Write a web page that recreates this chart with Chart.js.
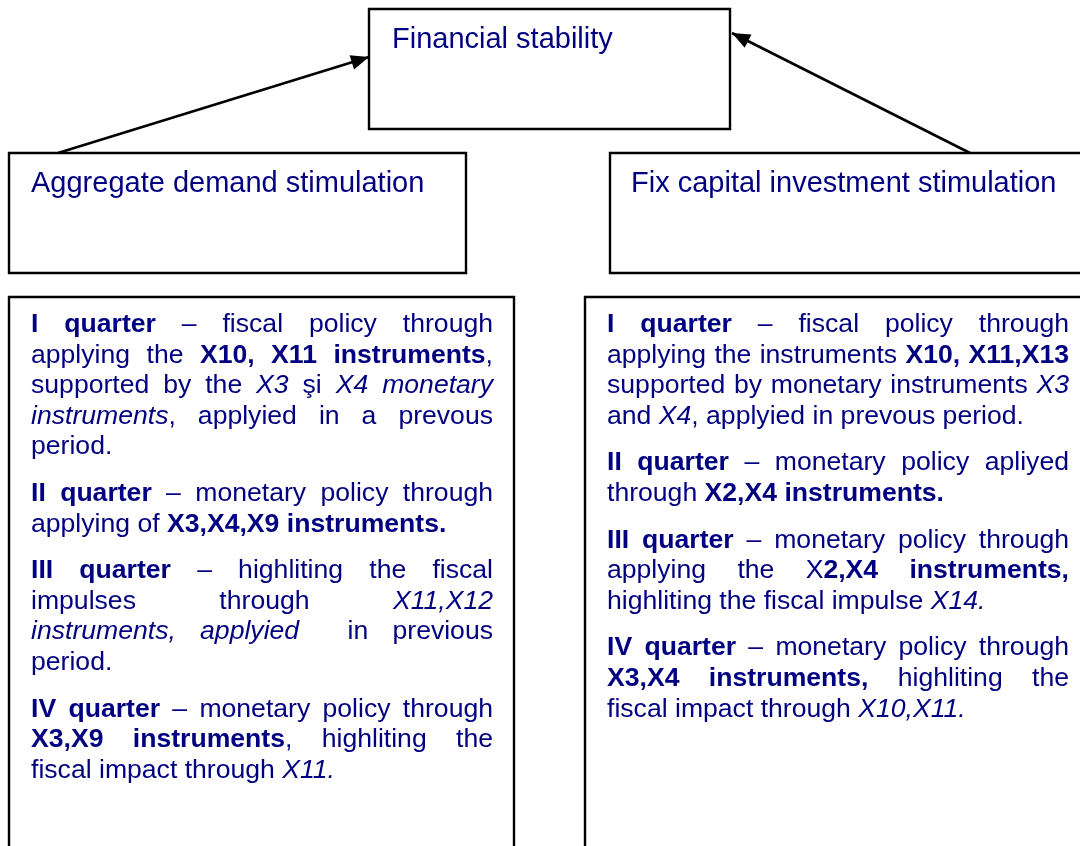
<!DOCTYPE html>
<html>
<head>
<meta charset="utf-8">
<script src="https://cdn.jsdelivr.net/npm/chart.js@4"></script>
<style>
  body { margin: 0; background: #fff; overflow: hidden; }
  canvas { display: block; }
</style>
</head>
<body>
<canvas id="chartEsquema" width="1080" height="846"></canvas>
<script>
// boxes: [left, top, right, bottom] in axis units (1 unit = 1 px)
var cajas = [
    [369, 9, 730, 129],     // Financial stability
    [9, 153, 466, 273],     // Aggregate demand
    [610, 153, 1083, 273],  // Fix capital investment
    [9, 297, 514, 850],     // left quarters
    [585, 297, 1083, 850]   // right quarters
];
// arrows: from -> to
var flechas = [
    [[58, 153], [369, 57]],
    [[970, 153], [732, 33]]
];
var titulos = ["Financial stability", "Aggregate demand stimulation", "Fix capital investment stimulation"];
var titulosPos = [[392, 48], [31, 192], [631, 192]];

// **bold**  _italic_
var textoIzq = [
    ["**I quarter** – fiscal policy through",
     "applying the **X10, X11 instruments**,",
     "supported by the _X3_ şi _X4 monetary_",
     "_instruments_, applyied in a prevous",
     "period."],
    ["**II quarter** – monetary policy through",
     "applying of **X3,X4,X9 instruments.**"],
    ["**III quarter** – highliting the fiscal",
     "impulses through _X11,X12_",
     "_instruments, applyied_  in previous",
     "period."],
    ["**IV quarter** – monetary policy through",
     "**X3,X9 instruments**, highliting the",
     "fiscal impact through _X11._"]
];
var textoDer = [
    ["**I quarter** – fiscal policy through",
     "applying the instruments **X10, X11,X13**",
     "supported by monetary instruments _X3_",
     "and _X4_, applyied in prevous period."],
    ["**II quarter** – monetary policy apliyed",
     "through **X2,X4 instruments.**"],
    ["**III quarter** – monetary policy through",
     "applying the X**2,X4 instruments,**",
     "highliting the fiscal impulse _X14._"],
    ["**IV quarter** – monetary policy through",
     "**X3,X4 instruments,** highliting the",
     "fiscal impact through _X10,X11._"]
];
var columnas = [[31, 493], [607, 1069]];

var AZUL = '#000080';
var FAMILIA = '"Liberation Sans", Arial, sans-serif';
var TAM = 26.6, INTERLINEA = 30.6, SEPARACION = 16, PRIMERA = 332;

function fuente(seg) {
    return (seg.i ? 'italic ' : '') + (seg.b ? 'bold ' : '') + TAM + 'px ' + FAMILIA;
}

// split marked-up line into words, each word a list of styled segments
function palabras(linea) {
    var res = [[]], b = false, i = false, buf = '';
    function flush() {
        if (buf) { res[res.length - 1].push({t: buf, b: b, i: i}); buf = ''; }
    }
    for (var k = 0; k < linea.length; k++) {
        var c = linea[k];
        if (c === '*' && linea[k + 1] === '*') { flush(); b = !b; k++; }
        else if (c === '_') { flush(); i = !i; }
        else if (c === ' ') { flush(); res.push([]); }
        else buf += c;
    }
    flush();
    return res;
}

function dibujarParrafos(ctx, parrafos, x0, x1, y0) {
    var y = y0;
    parrafos.forEach(function(par) {
        par.forEach(function(linea, n) {
            var ws = palabras(linea);
            var anchos = ws.map(function(w) {
                return w.reduce(function(s, seg) { ctx.font = fuente(seg); return s + ctx.measureText(seg.t).width; }, 0);
            });
            var total = anchos.reduce(function(a, v) { return a + v; }, 0);
            ctx.font = fuente({});
            var hueco = ctx.measureText(' ').width;
            var justificar = n < par.length - 1 && ws.length > 1;
            if (justificar) hueco = (x1 - x0 - total) / (ws.length - 1);
            var x = x0;
            ws.forEach(function(w) {
                w.forEach(function(seg) {
                    ctx.font = fuente(seg);
                    ctx.fillText(seg.t, x, y);
                    x += ctx.measureText(seg.t).width;
                });
                x += hueco;
            });
            y += INTERLINEA;
        });
        y += SEPARACION;
    });
}

var datasets = [];
cajas.forEach(function(c) {
    datasets.push({
        data: [{x: c[0], y: c[1]}, {x: c[2], y: c[1]}, {x: c[2], y: c[3]}, {x: c[0], y: c[3]}, {x: c[0], y: c[1]}],
        showLine: true, borderColor: '#000', borderWidth: 2.4, borderCapStyle: 'square', borderJoinStyle: 'miter',
        pointRadius: 0, fill: false, clip: false
    });
});
flechas.forEach(function(f) {
    datasets.push({
        data: [{x: f[0][0], y: f[0][1]}, {x: f[1][0], y: f[1][1]}],
        showLine: true, borderColor: '#000', borderWidth: 2.6, pointRadius: 0, fill: false, clip: false, flecha: true
    });
});

var pluginEsquema = {
    id: 'esquema',
    afterDatasetsDraw: function(chart) {
        var ctx = chart.ctx, sx = chart.scales.x, sy = chart.scales.y;
        ctx.save();
        // arrow heads
        chart.data.datasets.forEach(function(ds) {
            if (!ds.flecha) return;
            var a = ds.data[0], b = ds.data[1];
            var ax = sx.getPixelForValue(a.x), ay = sy.getPixelForValue(a.y);
            var bx = sx.getPixelForValue(b.x), by = sy.getPixelForValue(b.y);
            var ang = Math.atan2(by - ay, bx - ax), L = 18, W = 7.5;
            ctx.fillStyle = '#000';
            ctx.beginPath();
            ctx.moveTo(bx, by);
            ctx.lineTo(bx - L * Math.cos(ang) - W * Math.sin(ang), by - L * Math.sin(ang) + W * Math.cos(ang));
            ctx.lineTo(bx - L * Math.cos(ang) + W * Math.sin(ang), by - L * Math.sin(ang) - W * Math.cos(ang));
            ctx.closePath();
            ctx.fill();
        });
        // texts
        ctx.fillStyle = AZUL;
        ctx.textBaseline = 'alphabetic';
        ctx.textAlign = 'left';
        ctx.font = '29px ' + FAMILIA;
        titulos.forEach(function(t, k) {
            ctx.fillText(t, sx.getPixelForValue(titulosPos[k][0]), sy.getPixelForValue(titulosPos[k][1]));
        });
        dibujarParrafos(ctx, textoIzq, sx.getPixelForValue(columnas[0][0]), sx.getPixelForValue(columnas[0][1]), sy.getPixelForValue(PRIMERA));
        dibujarParrafos(ctx, textoDer, sx.getPixelForValue(columnas[1][0]), sx.getPixelForValue(columnas[1][1]), sy.getPixelForValue(PRIMERA));
        ctx.restore();
    }
};

var miEsquema = new Chart(document.getElementById('chartEsquema'), {
    type: 'scatter',
    data: { datasets: datasets },
    options: {
        responsive: false,
        devicePixelRatio: 1,
        animation: false,
        layout: { padding: 0 },
        scales: {
            x: { type: 'linear', min: 0, max: 1080, display: false },
            y: { type: 'linear', min: 0, max: 846, reverse: true, display: false }
        },
        plugins: { legend: { display: false }, tooltip: { enabled: false } }
    },
    plugins: [pluginEsquema]
});
</script>
</body>
</html>
